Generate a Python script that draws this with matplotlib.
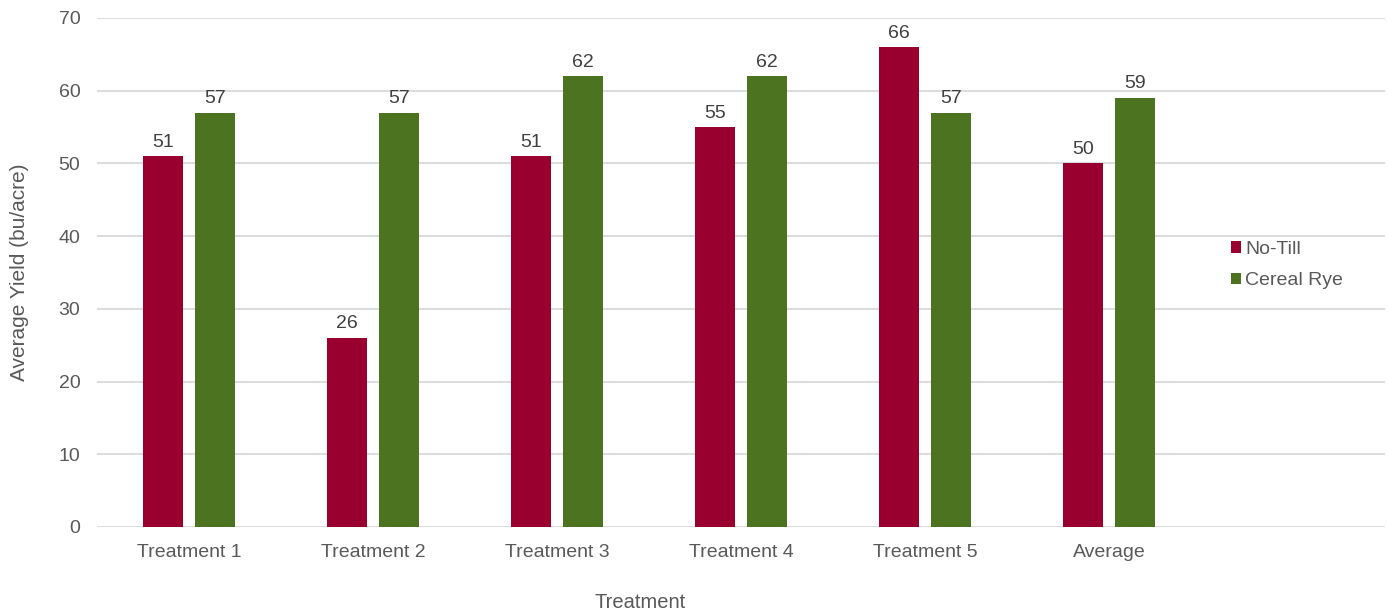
import matplotlib
matplotlib.use('Agg')
import matplotlib.pyplot as plt
import numpy as np

plt.rcParams['font.family'] = ['Liberation Sans', 'DejaVu Sans']

# Data
categories = ['Treatment 1', 'Treatment 2', 'Treatment 3', 'Treatment 4', 'Treatment 5', 'Average']
no_till = [51, 26, 51, 55, 66, 50]
cereal_rye = [57, 57, 62, 62, 57, 59]
series_names = ['No-Till', 'Cereal Rye']
colors = {'No-Till': '#990030', 'Cereal Rye': '#4C7320'}

fig = plt.figure(figsize=(13.88, 6.12), dpi=100)
ax = fig.add_axes([0.0699, 0.1389, 0.928, 0.8317])

x = np.arange(len(categories))
width = 0.217
offset = 0.143

bars1 = ax.bar(x - offset, no_till, width, color=colors['No-Till'], label=series_names[0], zorder=3)
bars2 = ax.bar(x + offset, cereal_rye, width, color=colors['Cereal Rye'], label=series_names[1], zorder=3)

# Data labels
for bars in (bars1, bars2):
    for b in bars:
        ax.annotate(f'{b.get_height():.0f}', (b.get_x() + b.get_width() / 2, b.get_height()),
                    xytext=(0, 4), textcoords='offset points', ha='center', va='bottom',
                    fontsize=14, color='#404040')

# Axes
ax.set_xlim(-0.5, 6.5)
ax.set_ylim(0, 70)
ax.set_yticks(range(0, 71, 10))
ax.set_xticks(x)
ax.set_xticklabels(categories)
ax.tick_params(axis='both', length=0, labelsize=14, labelcolor='#595959')
ax.tick_params(axis='x', pad=12)
ax.tick_params(axis='y', pad=12)
ax.grid(axis='y', color='#d9d9d9', linewidth=1.3, zorder=0)
for s in ax.spines.values():
    s.set_visible(False)

fig.text(20 / 1388, 1 - 272 / 612, 'Average Yield (bu/acre)', fontsize=15, color='#595959',
         ha='center', va='center', rotation=90)
fig.text(640 / 1388, 1 - 602 / 612, 'Treatment', fontsize=14.5, color='#595959', ha='center', va='center')

# Legend
fig.legend(loc='center left', bbox_to_anchor=(1213 / 1388, 1 - 265 / 612), frameon=False,
           fontsize=14, handlelength=0.55, handleheight=0.55, handletextpad=0.2,
           labelspacing=0.75, labelcolor='#595959')

fig.savefig('out.png', dpi=100)
